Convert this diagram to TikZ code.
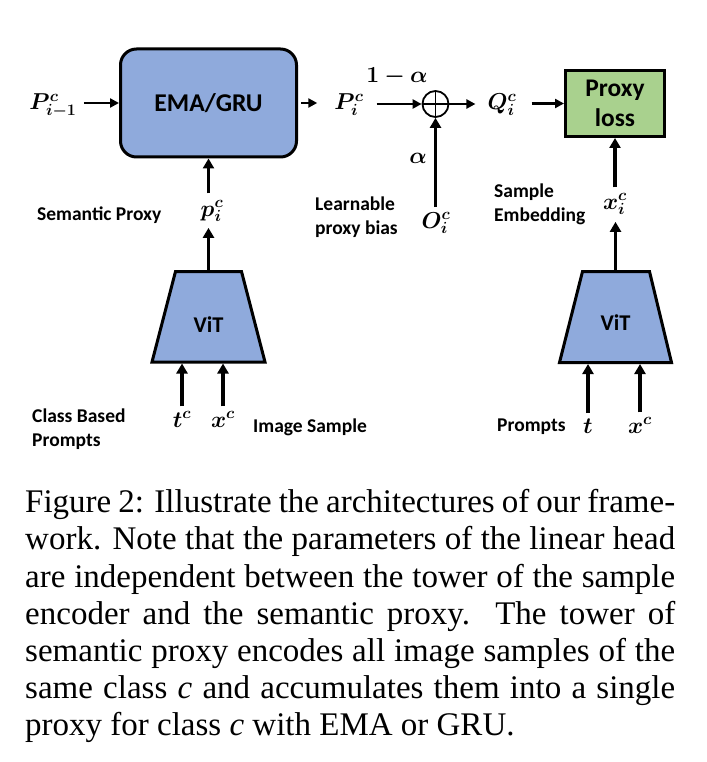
\documentclass[tikz,border=0pt]{standalone}
\usepackage{fix-cm}
\usepackage{fontspec}
\setmainfont{Liberation Serif}
\newfontfamily\carlito{Carlito}
\usepackage{bm}
\usetikzlibrary{arrows.meta}
\definecolor{boxblue}{HTML}{8FAADC}
\definecolor{boxgreen}{HTML}{A9D18E}
\begin{document}
\begin{tikzpicture}[x=1pt,y=-1pt,
  blk/.style={draw=black,line width=3pt},
  sfl/.style={font=\carlito\bfseries\fontsize{19.5}{24}\selectfont,inner sep=0pt},
  ml/.style={font=\fontsize{23}{27}\selectfont,inner sep=2pt},
  harr/.style={line width=2.6pt,-{Triangle[length=9pt,width=9pt]}},
  varr/.style={line width=3.8pt,-{Triangle[length=10pt,width=11pt]}},
  capl/.style={font=\fontsize{33}{37}\selectfont,inner sep=0pt,anchor=base west},
]
\fill[white] (0,0) rectangle (706,762);
\useasboundingbox (0,0) rectangle (706,762);

% top row
\node[blk,fill=boxblue,rounded corners=16pt,minimum width=176pt,minimum height=108pt,
      font=\carlito\bfseries\fontsize{25.6}{30}\selectfont] (ema) at (208.5,103) {EMA/GRU};
\node[ml,anchor=base] (pim1) at (53,110) {$\bm{P^{c}_{i-1}}$};
\node[ml,anchor=base] (pi) at (349,110) {$\bm{P^{c}_{i}}$};
\node[draw=black,line width=1.8pt,circle,minimum size=26pt,inner sep=0pt] (plus) at (435.5,104) {};
\draw[line width=1.5pt] (plus.north) -- (plus.south) (plus.west) -- (plus.east);
\node[ml,anchor=base] (onem) at (397,83) {$\bm{1-\alpha}$};
\node[ml,anchor=base] (q) at (502,110) {$\bm{Q^{c}_{i}}$};
\node[blk,fill=boxgreen,minimum width=99pt,minimum height=66pt,align=center,
      font=\carlito\bfseries\fontsize{25.4}{30}\selectfont] (loss) at (615,103.5) {Proxy\\loss};

\node[ml,anchor=base] (al) at (418,164) {$\bm{\alpha}$};
\node[ml,anchor=base] (o) at (436,228) {$\bm{O^{c}_{i}}$};
\node[sfl,anchor=west,align=left] (lpb) at (315,217.5) {Learnable\\proxy bias};
\node[sfl,anchor=west,align=left] (se) at (494,204) {Sample\\Embedding};
\node[ml,anchor=base] (xi) at (615,209) {$\bm{x^{c}_{i}}$};
\node[ml,anchor=base] (p) at (212,216) {$\bm{p^{c}_{i}}$};
\node[sfl,anchor=base west] (sp) at (37,220) {Semantic Proxy};

% ViT blocks
\draw[blk,fill=boxblue] (152,362) -- (175.5,271.5) -- (241.5,271.5) -- (265,362) -- cycle;
\coordinate (vit1top) at (208.5,270);
\coordinate (vit1bot) at (208.5,363.5);
\node[sfl,font=\carlito\bfseries\fontsize{22.5}{26}\selectfont] (vit1l) at (208.5,325) {ViT};
\draw[blk,fill=boxblue] (559.5,362.5) -- (582.5,271.5) -- (649.5,271.5) -- (671.5,362.5) -- cycle;
\coordinate (vit2top) at (615.5,270);
\coordinate (vit2bot) at (615.5,364);
\node[sfl,font=\carlito\bfseries\fontsize{22.5}{26}\selectfont] (vit2l) at (615.5,323) {ViT};

% bottom labels
\node[ml,anchor=base] (tc) at (182,427) {$\bm{t^{c}}$};
\node[ml,anchor=base] (xc) at (223,427) {$\bm{x^{c}}$};
\node[sfl,anchor=west,align=left] (cbp) at (32,429.5) {Class Based\\Prompts};
\node[sfl,anchor=base west] (is) at (253,432) {Image Sample};
\node[ml,anchor=base] (t) at (588,433) {$\bm{t}$};
\node[ml,anchor=base] (xc2) at (640,433) {$\bm{x^{c}}$};
\node[sfl,anchor=base west] (pr) at (497,431) {Prompts};

% horizontal arrows
\draw[harr,shorten <=5pt] (pim1.east |- ema.west) -- (ema.west);
\draw[harr,shorten <=3pt,shorten >=15pt] (ema.east) -- (ema.east -| pi.west);
\draw[harr,shorten <=11pt] (pi.east |- plus.west) -- (plus.west);
\draw[harr,shorten >=10pt] (plus.east) -- (plus.east -| q.west);
\draw[harr,shorten <=13pt] (q.east |- loss.west) -- (loss.west);

% vertical arrows
\draw[varr,shorten <=3pt] (plus.south |- o.north) -- (plus.south);
\draw[varr,shorten >=4pt] (vit1top) -- (vit1top |- p.south);
\draw[varr,shorten <=5pt] (ema.south |- p.north) -- (ema.south);
\draw[varr,shorten >=5pt] (vit2top) -- (vit2top |- xi.south);
\draw[varr,shorten <=4pt] (loss.south |- xi.north) -- (loss.south);
\draw[varr,shorten <=3pt] (tc.north) -- (tc.north |- vit1bot);
\draw[varr,shorten <=3pt] (xc.north) -- (xc.north |- vit1bot);
\draw[varr,shorten <=3pt] (t.north) -- (t.north |- vit2bot);
\draw[varr,shorten <=3pt] (xc2.north) -- (xc2.north |- vit2bot);

% caption
\node[capl] (c1) at (25,512) {\hbox to 650pt{Figure 2: Illustrate the architectures of our frame-}};
\node[capl] (c2) at (25,549) {\hbox to 650pt{work. Note that the parameters of the linear head}};
\node[capl] (c3) at (25,587) {\hbox to 650pt{are independent between the tower of the sample}};
\node[capl] (c4) at (25,624) {\hbox to 650pt{encoder and the semantic proxy. The tower of}};
\node[capl] (c5) at (25,661) {\hbox to 650pt{semantic proxy encodes all image samples of the}};
\node[capl] (c6) at (25,698) {\hbox to 650pt{same class \textit{c} and accumulates them into a single}};
\node[capl] (c7) at (25,735) {proxy for class \textit{c} with EMA or GRU.};
\end{tikzpicture}
\end{document}
